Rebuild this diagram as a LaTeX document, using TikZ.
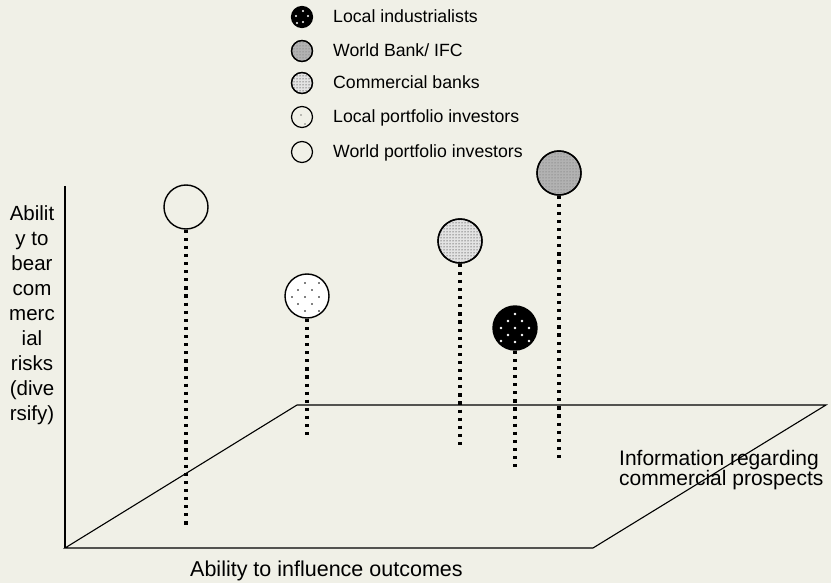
\documentclass[tikz,border=0pt]{standalone}
\usepackage{fontspec}
\setmainfont{Liberation Sans}
\usetikzlibrary{patterns}
\definecolor{bg}{RGB}{240,240,231}
\begin{document}
\begin{tikzpicture}[x=1pt,y=-1pt,
  stem/.style={line width=3.2pt, dash pattern=on 3.2pt off 4.9pt},
  actor/.style={circle, draw, line width=1.4pt, minimum size=44pt, inner sep=0pt},
  keysym/.style={circle, draw, line width=1.2pt, minimum size=21pt, inner sep=0pt},
  keytext/.style={anchor=base west, font=\fontsize{17.7}{20}\selectfont, inner sep=0pt},
  axis/.style={line width=1.1pt},
  lbl/.style={inner sep=0pt, font=\fontsize{21.5}{18}\selectfont}]
\fill[bg] (0,0) rectangle (831,583);
\useasboundingbox (0,0) rectangle (831,583);

% axes and plane
\coordinate (o) at (65,548);
\coordinate (top) at (65,186);
\coordinate (br) at (593,548);
\coordinate (tr) at (826,405);
\coordinate (tl) at (297,405);
\draw[axis] (top) -- (o);
\draw[axis] (o) -- (br) -- (tr) -- (tl) -- cycle;

% actors
\node[actor, fill=bg] (wpi) at (186,207) {};
\node[actor, fill=white] (lpi) at (307,296) {};
\node[actor, fill=gray!22] (cb) at (460,241) {};
\node[actor, fill=black] (li) at (515,328) {};
\node[actor, fill=gray!60] (wb) at (559,173) {};
\fill[pattern=dots, pattern color=black] (cb.center) circle (21);
\fill[pattern=dots, pattern color=black!60] (wb.center) circle (21);
\foreach \dx/\dy in {0/-14,-7/-7,7/-7,-14/0,0/0,14/0,-7/7,7/7,0/14,-14/13,14/13}
  \fill[white] (li.center) ++(\dx,\dy) circle (1.4);
\foreach \dx/\dy in {-2/-13,12/-13,-9/-6,5/-6,-15/1,-2/1,12/1,-9/8,5/8,-2/15,12/15}
  \fill[black] (lpi.center) ++(\dx,\dy) circle (0.8);
\draw[actor] (cb.center) circle (22);
\draw[actor] (wb.center) circle (22);

% stems
\coordinate (wpi-end) at (186,527);
\coordinate (lpi-end) at (307,435);
\coordinate (cb-end) at (460,446);
\coordinate (li-end) at (515,469);
\coordinate (wb-end) at (559,461);
\draw[stem] (wpi.south) -- (wpi-end);
\draw[stem] (lpi.south) -- (lpi-end);
\draw[stem] (cb.south) -- (cb-end);
\draw[stem] (li.south) -- (li-end);
\draw[stem] (wb.south) -- (wb-end);

% legend
\node[keysym, fill=black] (k1) at (302,17) {};
\node[keysym, fill=gray!60] (k2) at (302,51) {};
\node[keysym, fill=gray!22] (k3) at (302,83) {};
\node[keysym, fill=bg] (k4) at (302,117) {};
\node[keysym, fill=bg] (k5) at (302,152) {};
\fill[pattern=dots, pattern color=black!60] (k2.center) circle (10);
\fill[pattern=dots, pattern color=black] (k3.center) circle (10);
\draw[keysym] (k2.center) circle (10.5);
\draw[keysym] (k3.center) circle (10.5);
\foreach \dx/\dy in {1/-6,-6/-1,6/-1,1/5,-5/6}
  \fill[white] (k1.center) ++(\dx,\dy) circle (1.2);
\foreach \dx/\dy in {-1/-2,3/7}
  \fill[black] (k4.center) ++(\dx,\dy) circle (0.7);
\node[keytext] (t1) at (333,23) {Local industrialists};
\node[keytext] (t2) at (333,57) {World Bank/ IFC};
\node[keytext] (t3) at (333,89) {Commercial banks};
\node[keytext] (t4) at (333,123) {Local portfolio investors};
\node[keytext] (t5) at (333,158) {World portfolio investors};

% axis labels
\node[anchor=north, inner sep=0pt, align=center, font=\fontsize{20.5}{25}\selectfont] (ylab) at (32,205)
  {Abilit\\y to\\bear\\com\\merc\\ial\\risks\\(dive\\rsify)};
\node[lbl, anchor=base west] (xlab) at (190,576) {Ability to influence outcomes};
\node[lbl, anchor=north west, align=left, font=\fontsize{21}{18}\selectfont] (zlab) at (619,450)
  {Information regarding\\commercial prospects};
\end{tikzpicture}
\end{document}
